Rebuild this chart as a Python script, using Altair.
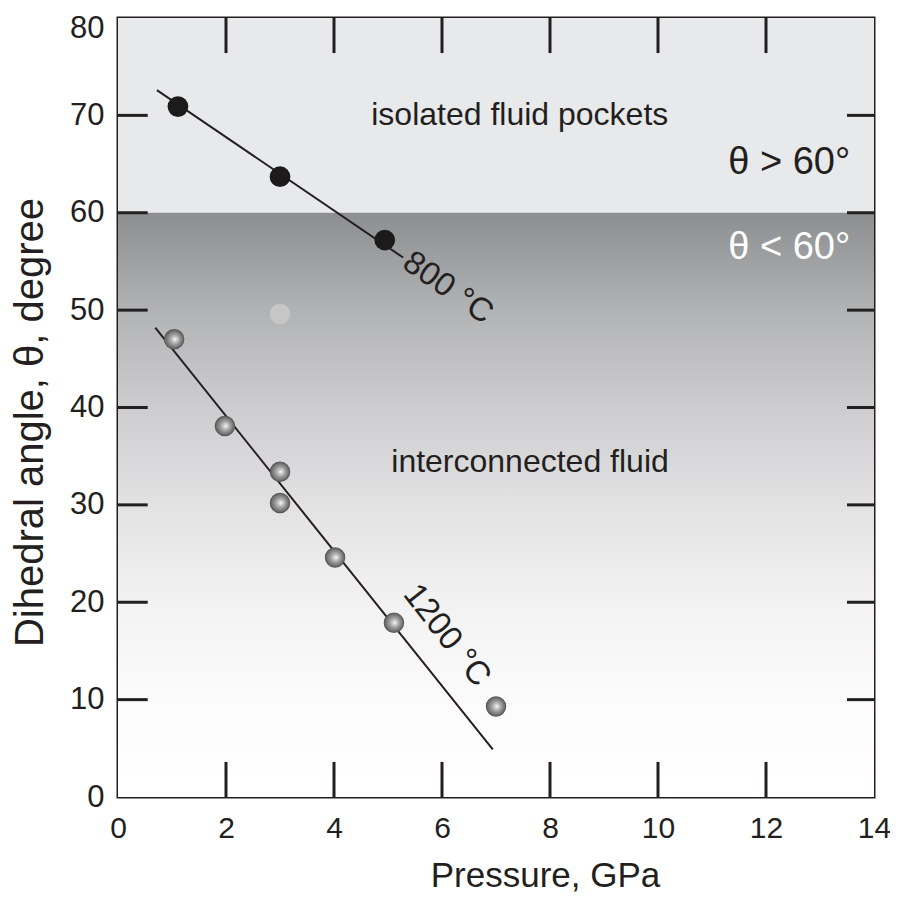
import altair as alt
import pandas as pd

# ---------------- data ----------------
x_label_values = [0, 2, 4, 6, 8, 10, 12, 14]
y_label_values = [0, 10, 20, 30, 40, 50, 60, 70, 80]
x_inner_ticks = [2, 4, 6, 8, 10, 12]
y_inner_ticks = [10, 20, 30, 40, 50, 60, 70]

# 800 C series
p800 = [1.11, 3.0, 4.94]
t800 = [70.9, 63.7, 57.2]
line800_p = [0.72, 5.28]
line800_t = [72.6, 55.4]

# 1200 C series
p1200 = [1.04, 1.98, 3.0, 3.0, 4.02, 5.11, 7.0]
t1200 = [47.0, 38.1, 33.4, 30.2, 24.6, 17.9, 9.3]
line1200_p = [0.69, 6.94]
line1200_t = [48.2, 4.9]

# faint ghost point
ghost_p = [3.0]
ghost_t = [49.6]

# background bands
band_top = [60, 80]
band_bottom = [0, 60]

FONT = "Liberation Sans, Arial, Helvetica, sans-serif"
INK = "#231f20"

xscale = alt.Scale(domain=[0, 14], nice=False, zero=False)
yscale = alt.Scale(domain=[0, 80], nice=False, zero=False)

x_axis = alt.Axis(
    values=x_label_values, ticks=False, domain=False, grid=False,
    labelFont=FONT, labelFontSize=30, labelColor=INK, labelPadding=16,
    labelFlush=False, labelOverlap=False,
    titleFont=FONT, titleFontSize=35, titleFontWeight="normal", titleColor=INK,
    titleX=427, titleY=78, titleAlign="center", titleBaseline="middle",
)
y_axis = alt.Axis(
    values=y_label_values, ticks=False, domain=False, grid=False,
    labelFont=FONT, labelFontSize=31, labelColor=INK, labelPadding=14,
    labelFlush=False, labelOverlap=False,
    labelOffset={"condition": {"test": "datum.value == 80", "value": 10}, "value": 0},
    titleFont=FONT, titleFontSize=40, titleFontWeight="normal", titleColor=INK,
    titleAngle=-90, titleX=-88, titleY=404, titleAlign="center", titleBaseline="middle",
)

# ---------------- background ----------------
top_df = pd.DataFrame({"p": [0], "p2": [14], "t": [band_top[0]], "t2": [band_top[1]]})
bot_df = pd.DataFrame({"p": [0], "p2": [14], "t": [band_bottom[0]], "t2": [band_bottom[1]]})

top_rect = alt.Chart(top_df).mark_rect(color="#e8e9eb").encode(
    x=alt.X("p:Q", scale=xscale, axis=x_axis, title="Pressure, GPa"),
    x2="p2:Q",
    y=alt.Y("t:Q", scale=yscale, axis=y_axis, title="Dihedral angle, θ, degree"),
    y2="t2:Q",
)

grad = alt.LinearGradient(
    gradient="linear",
    stops=[
        alt.GradientStop(offset=0.0, color="#8d8e90"),
        alt.GradientStop(offset=0.167, color="#b2b3b5"),
        alt.GradientStop(offset=0.333, color="#cdcdcf"),
        alt.GradientStop(offset=0.5, color="#e2e2e3"),
        alt.GradientStop(offset=0.667, color="#f2f2f2"),
        alt.GradientStop(offset=0.833, color="#fbfbfb"),
        alt.GradientStop(offset=1.0, color="#ffffff"),
    ],
    x1=0, x2=0, y1=0, y2=1,
)
bot_rect = alt.Chart(bot_df).mark_rect(color=grad).encode(
    x=alt.X("p:Q", scale=xscale), x2="p2:Q",
    y=alt.Y("t:Q", scale=yscale), y2="t2:Q",
)

# ---------------- inward ticks ----------------
HX = 0.55   # horizontal tick length in GPa units (~30 px)
VY = 3.6    # vertical tick length in degree units (~35 px)
left_df = pd.DataFrame({"t": y_inner_ticks, "p": [0] * len(y_inner_ticks), "p2": [HX] * len(y_inner_ticks)})
right_df = pd.DataFrame({"t": y_inner_ticks, "p": [14 - 0.5] * len(y_inner_ticks), "p2": [14] * len(y_inner_ticks)})
top_df2 = pd.DataFrame({"p": x_inner_ticks, "t": [80] * len(x_inner_ticks), "t2": [80 - VY] * len(x_inner_ticks)})
bot_df2 = pd.DataFrame({"p": x_inner_ticks, "t": [0] * len(x_inner_ticks), "t2": [VY] * len(x_inner_ticks)})

tick_style = dict(color=INK, strokeWidth=3)
ticks = alt.layer(
    alt.Chart(left_df).mark_rule(**tick_style).encode(
        x=alt.X("p:Q", scale=xscale), x2="p2:Q", y=alt.Y("t:Q", scale=yscale)),
    alt.Chart(right_df).mark_rule(**tick_style).encode(
        x=alt.X("p:Q", scale=xscale), x2="p2:Q", y=alt.Y("t:Q", scale=yscale)),
    alt.Chart(top_df2).mark_rule(**tick_style).encode(
        x=alt.X("p:Q", scale=xscale), y=alt.Y("t:Q", scale=yscale), y2="t2:Q"),
    alt.Chart(bot_df2).mark_rule(**tick_style).encode(
        x=alt.X("p:Q", scale=xscale), y=alt.Y("t:Q", scale=yscale), y2="t2:Q"),
)

# ---------------- fit lines ----------------
l800 = alt.Chart(pd.DataFrame({"p": line800_p, "t": line800_t})).mark_line(
    color=INK, strokeWidth=2).encode(
    x=alt.X("p:Q", scale=xscale), y=alt.Y("t:Q", scale=yscale))
l1200 = alt.Chart(pd.DataFrame({"p": line1200_p, "t": line1200_t})).mark_line(
    color=INK, strokeWidth=2).encode(
    x=alt.X("p:Q", scale=xscale), y=alt.Y("t:Q", scale=yscale))

# ---------------- points ----------------
pts800 = alt.Chart(pd.DataFrame({"p": p800, "t": t800})).mark_point(
    filled=True, shape="circle", size=430, color="#1c1a1b", opacity=1).encode(
    x=alt.X("p:Q", scale=xscale), y=alt.Y("t:Q", scale=yscale))

sphere = alt.RadialGradient(
    gradient="radial",
    stops=[
        alt.GradientStop(offset=0.0, color="#ffffff"),
        alt.GradientStop(offset=0.15, color="#d8d8d8"),
        alt.GradientStop(offset=0.5, color="#9c9c9c"),
        alt.GradientStop(offset=0.8, color="#737373"),
        alt.GradientStop(offset=1.0, color="#4e4e4e"),
    ],
    x1=0.55, y1=0.5, r1=0, x2=0.5, y2=0.5, r2=0.5,
)
pts1200 = alt.Chart(pd.DataFrame({"p": p1200, "t": t1200})).mark_point(
    filled=True, shape="circle", size=420, color=sphere, opacity=1).encode(
    x=alt.X("p:Q", scale=xscale), y=alt.Y("t:Q", scale=yscale))

ghost = alt.Chart(pd.DataFrame({"p": ghost_p, "t": ghost_t})).mark_point(
    filled=True, shape="circle", size=420, color="#c6c6c7", opacity=1).encode(
    x=alt.X("p:Q", scale=xscale), y=alt.Y("t:Q", scale=yscale))

# ---------------- annotations ----------------
def label(text, p, t, size, color=INK, align="center", angle=0):
    return alt.Chart(pd.DataFrame({"p": [p], "t": [t], "s": [text]})).mark_text(
        font=FONT, fontSize=size, color=color, align=align, baseline="middle", angle=angle
    ).encode(x=alt.X("p:Q", scale=xscale), y=alt.Y("t:Q", scale=yscale), text="s:N")

labels = alt.layer(
    label("isolated fluid pockets", 7.44, 70.0, 32),
    label("interconnected fluid", 7.63, 34.4, 32),
    label("θ > 60°", 11.3, 65.1, 38, align="left"),
    label("θ < 60°", 11.3, 56.4, 38, color="#ffffff", align="left"),
    label("800 °C", 6.11, 52.3, 33, angle=35),
    label("1200 °C", 6.09, 16.6, 33, angle=52),
)

chart = alt.layer(
    top_rect, bot_rect, ticks, l800, l1200, ghost, pts800, pts1200, labels
).properties(
    width=756, height=779,
    autosize=alt.AutoSizeParams(type="none"),
    padding={"left": 110, "top": 10, "right": 16, "bottom": 98},
    background="white",
).configure_view(
    stroke=INK, strokeWidth=3
)

chart.save("out.html", embed_options={"renderer": "svg", "actions": False})
